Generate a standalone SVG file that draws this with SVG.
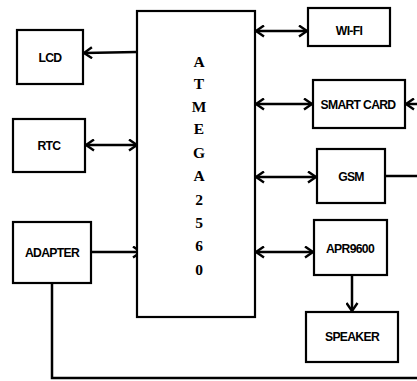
<svg xmlns="http://www.w3.org/2000/svg" width="417" height="381" viewBox="0 0 417 381">
<style>
.box{fill:#fff;stroke:#000;stroke-width:2.2}
.lbl{font-family:"Liberation Sans",Arial,sans-serif;font-weight:bold;font-size:12.2px;text-anchor:middle;letter-spacing:-0.7px;fill:#000}
.chip{font-family:"Liberation Serif","Times New Roman",serif;font-weight:bold;font-size:15.5px;text-anchor:middle;fill:#000}
.ln{fill:none;stroke:#000;stroke-width:2.5}
</style>
<defs>
<marker id="ah" viewBox="0 0 11 13" refX="10" refY="6.5" markerWidth="11" markerHeight="13" markerUnits="userSpaceOnUse" orient="auto-start-reverse">
<path d="M2,1 L10,6.5 L2,12" fill="none" stroke="#000" stroke-width="2.4"/>
</marker>
</defs>
<g id="connectors">
<line class="ln" x1="137" y1="52" x2="84" y2="53" marker-end="url(#ah)"/>
<line class="ln" x1="86" y1="145" x2="137" y2="145" marker-start="url(#ah)" marker-end="url(#ah)"/>
<line class="ln" x1="91" y1="252" x2="141" y2="252" marker-end="url(#ah)"/>
<polyline class="ln" points="52,283 52,378 417,378"/>
<line class="ln" x1="256" y1="31" x2="307" y2="31" marker-start="url(#ah)" marker-end="url(#ah)"/>
<line class="ln" x1="256" y1="104" x2="312" y2="104" marker-start="url(#ah)" marker-end="url(#ah)"/>
<line class="ln" x1="417" y1="104" x2="406" y2="104" marker-end="url(#ah)"/>
<line class="ln" x1="256" y1="177" x2="316" y2="177" marker-start="url(#ah)" marker-end="url(#ah)"/>
<line class="ln" x1="385" y1="176" x2="417" y2="176"/>
<line class="ln" x1="256" y1="252" x2="313" y2="252" marker-start="url(#ah)" marker-end="url(#ah)"/>
<line class="ln" x1="352" y1="275" x2="352" y2="311" marker-end="url(#ah)"/>
</g>
<g id="atmega">
<rect class="box" x="137" y="11" width="118" height="306"/>
<text class="chip" x="199" y="67">A</text>
<text class="chip" x="199" y="89">T</text>
<text class="chip" x="199" y="112">M</text>
<text class="chip" x="199" y="134">E</text>
<text class="chip" x="199" y="158">G</text>
<text class="chip" x="199" y="181">A</text>
<text class="chip" x="199" y="205">2</text>
<text class="chip" x="199" y="228">5</text>
<text class="chip" x="199" y="251">6</text>
<text class="chip" x="199" y="275">0</text>
</g>
<g id="lcd"><rect class="box" x="17" y="30" width="66" height="54"/><text class="lbl" x="50" y="62">LCD</text></g>
<g id="rtc"><rect class="box" x="13" y="119" width="72" height="53"/><text class="lbl" x="49" y="150">RTC</text></g>
<g id="adapter"><rect class="box" x="13" y="222" width="78" height="61"/><text class="lbl" x="52" y="257">ADAPTER</text></g>
<g id="wifi"><rect class="box" x="308" y="8" width="82" height="38"/><text class="lbl" x="349" y="35">WI-FI</text></g>
<g id="smartcard"><rect class="box" x="313" y="80" width="92" height="48"/><text class="lbl" x="358" y="109">SMART CARD</text></g>
<g id="gsm"><rect class="box" x="317" y="149" width="68" height="54"/><text class="lbl" x="351" y="181">GSM</text></g>
<g id="apr9600"><rect class="box" x="314" y="220" width="73" height="55"/><text class="lbl" x="350" y="253">APR9600</text></g>
<g id="speaker"><rect class="box" x="306" y="312" width="92" height="50"/><text class="lbl" x="352" y="341">SPEAKER</text></g>
</svg>
